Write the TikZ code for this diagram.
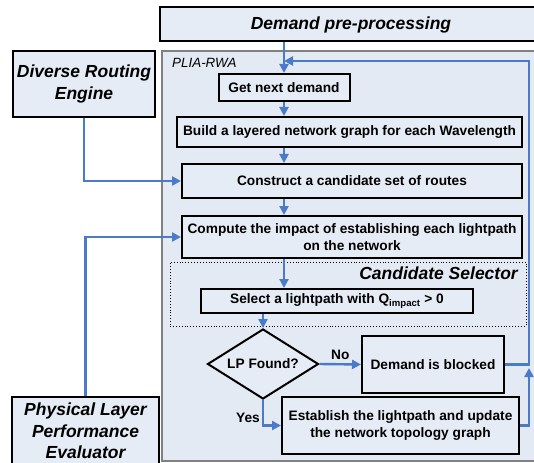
\documentclass[tikz,border=0pt]{standalone}
\usepackage{fontspec}
\setmainfont{Liberation Sans}
\usetikzlibrary{arrows.meta,shapes.geometric,calc,positioning}
\definecolor{boxfill}{HTML}{E6ECF6}
\definecolor{panelfill}{HTML}{E4EAF4}
\definecolor{flowblue}{HTML}{4A7BC8}
\tikzset{
  stepbox/.style={
    shape = rectangle,
    draw,
    fill = boxfill,
    line width = 2pt,
    inner sep = 0pt,
    align = center,
    font = \bfseries\fontsize{13.7}{17}\selectfont
  },
  engine/.style={
    shape = rectangle,
    draw,
    fill = boxfill,
    line width = 2pt,
    inner sep = 0pt,
    align = center,
    font = \bfseries\itshape\fontsize{17.5}{21.5}\selectfont
  },
  decision/.style={
    shape = diamond,
    draw,
    fill = boxfill,
    line width = 2pt,
    inner sep = 0pt,
    aspect = 1.6,
    font = \bfseries\fontsize{13.7}{17}\selectfont
  },
  panel/.style={
    shape = rectangle,
    draw = gray,
    fill = panelfill,
    line width = 1.3pt
  },
  selbox/.style={
    shape = rectangle,
    draw,
    dotted,
    line width = 0.9pt
  },
  flow/.style={
    draw = flowblue,
    line width = 2.4pt,
    -{Triangle[length=9pt,width=9pt]}
  },
  answer/.style={
    inner sep = 2pt,
    font = \bfseries\fontsize{13.7}{17}\selectfont
  }
}
\begin{document}
\begin{tikzpicture}[x=1pt,y=-1pt]
    \useasboundingbox (0,0) rectangle (534,462);
    \def\xr{529}
    % frame of the algorithm
    \node[panel, minimum width=383pt, minimum height=410pt] (plia) at (353.5,256) {};
    \node[anchor=west, inner sep=0pt, font=\itshape\fontsize{13.4}{16}\selectfont] (pliatitle) at (172,63) {PLIA-RWA};
    \node[selbox, minimum width=356pt, minimum height=64pt] (selector) at (348,294) {};
    \node[anchor=east, inner sep=0pt, font=\bfseries\itshape\fontsize{17.5}{21.5}\selectfont] (seltitle) at (518,273) {Candidate Selector};
    % boxes
    \node[engine, minimum width=382pt, minimum height=34pt] (demand) at (351,24.5) {Demand pre-processing};
    \node[engine, minimum width=142pt, minimum height=66pt] (diverse) at (84,84) {Diverse Routing\\Engine};
    \node[engine, minimum width=147pt, minimum height=68pt] (physical) at (85.5,431) {Physical Layer\\Performance\\Evaluator};
    \node[stepbox, minimum width=131pt, minimum height=27pt] (getnext) at (284,87.5) {Get next demand};
    \node[stepbox, minimum width=345pt, minimum height=30pt] (build) at (349.5,132) {Build a layered network graph for each Wavelength};
    \node[stepbox, minimum width=340pt, minimum height=34pt] (construct) at (352,181) {Construct a candidate set of routes};
    \node[stepbox, minimum width=340pt, minimum height=42pt] (compute) at (352,237) {Compute the impact of establishing each lightpath\\on the network};
    \node[stepbox, minimum width=272pt, minimum height=24pt] (select) at (337,301) {Select a lightpath with Q\textsubscript{impact} > 0};
    \node[decision, minimum width=111pt, minimum height=70pt] (found) at (263,364) {LP Found?};
    \node[stepbox, minimum width=142pt, minimum height=57pt] (blocked) at (433,364.5) {Demand is blocked};
    \node[stepbox, minimum width=237pt, minimum height=57pt] (establish) at (400.5,425.5) {Establish the lightpath and update\\the network topology graph};
    \coordinate (back) at (\xr,61);
    \coordinate (merge) at (\xr,368);
    % connectors
    \draw[flow] (demand.south -| getnext.north) -- (getnext.north);
    \draw[flow] (getnext.south) -- (getnext.south |- build.north);
    \draw[flow] (getnext.south |- build.south) -- (getnext.south |- construct.north);
    \draw[flow] (getnext.south |- construct.south) -- (getnext.south |- compute.north);
    \draw[flow] (getnext.south |- compute.south) -- (getnext.south |- select.north);
    \draw[flow] (found.north |- select.south) -- (found.north);
    \draw[flow] (found.east) -- (blocked.west) node[answer, midway, above=1pt] {No};
    \draw[flow] (found.south) |- (establish.west) node[answer, pos=0.35, left] {Yes};
    \draw[flow] (blocked.east) -| (back) -- (getnext.north |- back);
    \draw[flow] (establish.east) -| (merge);
    \draw[flow] (diverse.south) |- (construct.west);
    \draw[flow] (physical.north) |- (compute.west);
\end{tikzpicture}
\end{document}
